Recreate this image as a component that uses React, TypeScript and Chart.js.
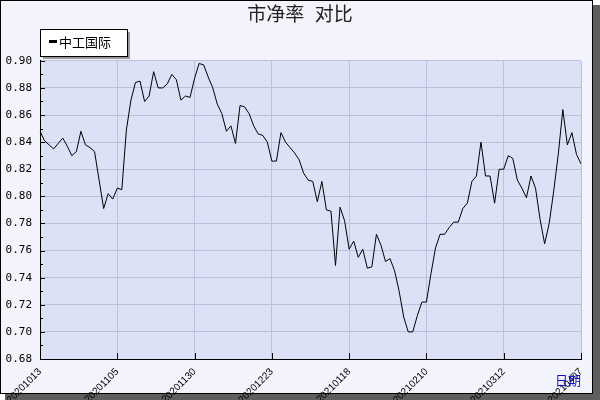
import React, { useEffect, useRef } from "react";
import { Chart, registerables } from "chart.js";

Chart.register(...registerables);

const titleText = "市净率  对比";
const seriesName = "中工国际";
const xAxisName = "日期";

const dates = [
  "20201013", "20201014", "20201015", "20201016", "20201019", "20201020", "20201021", "20201022", "20201023", "20201026",
  "20201027", "20201028", "20201029", "20201030", "20201102", "20201103", "20201104", "20201105", "20201106", "20201109",
  "20201110", "20201111", "20201112", "20201113", "20201116", "20201117", "20201118", "20201119", "20201120", "20201123",
  "20201124", "20201125", "20201126", "20201127", "20201130", "20201201", "20201202", "20201203", "20201204", "20201207",
  "20201208", "20201209", "20201210", "20201211", "20201214", "20201215", "20201216", "20201217", "20201218", "20201221",
  "20201222", "20201223", "20201224", "20201225", "20201228", "20201229", "20201230", "20201231", "20210104", "20210105",
  "20210106", "20210107", "20210108", "20210111", "20210112", "20210113", "20210114", "20210115", "20210118", "20210119",
  "20210120", "20210121", "20210122", "20210125", "20210126", "20210127", "20210128", "20210129", "20210201", "20210202",
  "20210203", "20210204", "20210205", "20210208", "20210209", "20210210", "20210218", "20210219", "20210222", "20210223",
  "20210224", "20210225", "20210226", "20210301", "20210302", "20210303", "20210304", "20210305", "20210308", "20210309",
  "20210310", "20210311", "20210312", "20210315", "20210316", "20210317", "20210318", "20210319", "20210322", "20210323",
  "20210324", "20210325", "20210326", "20210329", "20210330", "20210331", "20210401", "20210402", "20210406", "20210407",
];

const pbValues = [
  0.848, 0.841, 0.838, 0.835, 0.839, 0.843, 0.837, 0.830, 0.833, 0.848,
  0.838, 0.836, 0.833, 0.812, 0.791, 0.802, 0.798, 0.806, 0.805, 0.849,
  0.871, 0.884, 0.885, 0.870, 0.874, 0.892, 0.880, 0.880, 0.883, 0.890,
  0.886, 0.871, 0.874, 0.873, 0.887, 0.898, 0.897, 0.888, 0.880, 0.868,
  0.861, 0.848, 0.852, 0.839, 0.867, 0.866, 0.861, 0.852, 0.846, 0.845,
  0.840, 0.826, 0.826, 0.847, 0.840, 0.836, 0.832, 0.827, 0.817, 0.812,
  0.811, 0.796, 0.811, 0.790, 0.789, 0.749, 0.792, 0.782, 0.761, 0.767,
  0.755, 0.761, 0.747, 0.748, 0.772, 0.764, 0.752, 0.754, 0.745, 0.730,
  0.711, 0.700, 0.700, 0.712, 0.722, 0.722, 0.743, 0.762, 0.772, 0.772,
  0.777, 0.781, 0.781, 0.791, 0.795, 0.811, 0.815, 0.840, 0.815, 0.815,
  0.795, 0.820, 0.820, 0.830, 0.828, 0.812, 0.806, 0.799, 0.815, 0.806,
  0.783, 0.765, 0.780, 0.804, 0.831, 0.864, 0.838, 0.847, 0.831, 0.824,
];

const yMin = 0.68;
const yMax = 0.9;
const yStep = 0.02;
const yMinorStep = 0.01;
const xTickEvery = 17;

const outerBg = "#f3f4fb";
const plotBg = "#dce1f6";
const gridColor = "#b9c3dd";
const shadowColor = "#5e5e5e";

export default function App() {
  const canvasRef = useRef<HTMLCanvasElement | null>(null);

  useEffect(() => {
    document.body.style.margin = "0";
    const canvas = canvasRef.current;
    if (!canvas) return;

    const decorPlugin = {
      id: "decor",
      beforeDraw(chart: any) {
        const { ctx, chartArea } = chart;
        ctx.save();
        ctx.fillStyle = "#ffffff";
        ctx.fillRect(0, 0, 600, 400);
        ctx.fillStyle = shadowColor;
        ctx.fillRect(5, 5, 595, 395);
        ctx.fillStyle = outerBg;
        ctx.fillRect(0, 0, 593, 394);
        ctx.strokeStyle = "#000";
        ctx.lineWidth = 1;
        ctx.strokeRect(0.5, 0.5, 592, 393);
        ctx.fillStyle = plotBg;
        ctx.fillRect(chartArea.left, chartArea.top, chartArea.right - chartArea.left, chartArea.bottom - chartArea.top);
        ctx.restore();
      },
      afterDraw(chart: any) {
        const { ctx, chartArea } = chart;
        const xs = chart.scales.x;
        const ys = chart.scales.y;
        ctx.save();
        ctx.strokeStyle = "#000";
        ctx.lineWidth = 1;
        // y ticks (inside)
        for (let k = 0; k <= Math.round((yMax - yMin) / yMinorStep); k++) {
          const v = yMin + k * yMinorStep;
          const py = Math.round(ys.getPixelForValue(v)) + 0.5;
          const len = k % 2 === 0 ? 5 : 3;
          ctx.beginPath();
          ctx.moveTo(chartArea.left, py);
          ctx.lineTo(chartArea.left + len, py);
          ctx.stroke();
        }
        // x ticks (inside)
        for (let i = 0; i < dates.length; i += xTickEvery) {
          const px = Math.round(xs.getPixelForValue(i)) + 0.5;
          ctx.beginPath();
          ctx.moveTo(px, chartArea.bottom);
          ctx.lineTo(px, chartArea.bottom - 6);
          ctx.stroke();
        }
        // legend box
        const ds = chart.data.datasets[0];
        const lx = 40, ly = 29, lw = 87, lh = 27;
        ctx.fillStyle = "#9a9a9a";
        ctx.fillRect(lx + 3, ly + 3, lw, lh);
        ctx.fillStyle = "#ffffff";
        ctx.fillRect(lx, ly, lw, lh);
        ctx.strokeStyle = "#000";
        ctx.strokeRect(lx + 0.5, ly + 0.5, lw, lh);
        ctx.fillStyle = ds.borderColor;
        ctx.fillRect(lx + 9, ly + 11, 8, 3);
        ctx.font = "13px 'Noto Sans CJK SC'";
        ctx.textBaseline = "middle";
        ctx.textAlign = "left";
        ctx.fillStyle = "#000";
        ctx.fillText(ds.label, lx + 19, ly + 13);
        // x axis name
        ctx.font = "13px 'Noto Sans CJK SC'";
        ctx.fillStyle = "#1010d0";
        ctx.textAlign = "right";
        ctx.fillText(xAxisName, chartArea.right, chartArea.bottom + 21);
        ctx.restore();
      },
    };

    const chart = new Chart(canvas, {
      type: "line",
      data: {
        labels: dates,
        datasets: [
          {
            label: seriesName,
            data: pbValues,
            borderColor: "#000000",
            backgroundColor: "#000000",
            borderWidth: 1,
            pointRadius: 0,
            tension: 0,
            fill: false,
          },
        ],
      },
      options: {
        responsive: false,
        maintainAspectRatio: false,
        animation: false,
        layout: { padding: { left: 0, right: 0, top: 0, bottom: 0 } },
        plugins: {
          legend: { display: false },
          tooltip: { enabled: false },
          title: {
            display: true,
            text: titleText,
            color: "#222222",
            font: { family: "'Liberation Sans', 'Noto Sans CJK SC'", size: 19, weight: "normal" },
            padding: { top: 4, bottom: 34 },
          },
        },
        scales: {
          x: {
            type: "category",
            offset: false,
            grid: { color: gridColor, drawTicks: false, lineWidth: 1 },
            border: { display: true, color: "#000000", width: 1 },
            ticks: {
              autoSkip: false,
              minRotation: 45,
              maxRotation: 45,
              padding: 7,
              color: "#000000",
              font: { family: "'Liberation Sans'", size: 10 },
              callback: (_v: any, i: number) => (i % xTickEvery === 0 ? dates[i] : null),
            },
            afterFit: (s: any) => {
              s.height = 41;
              s.paddingRight = 19;
            },
          },
          y: {
            min: yMin,
            max: yMax,
            grid: { color: gridColor, drawTicks: false, lineWidth: 1 },
            border: { display: true, color: "#000000", width: 1 },
            ticks: {
              stepSize: yStep,
              padding: 8,
              color: "#000000",
              font: { family: "'DejaVu Sans Mono'", size: 11 },
              callback: (v: any) => Number(v).toFixed(2),
            },
            afterFit: (s: any) => {
              s.width = 40;
            },
          },
        },
      },
      plugins: [decorPlugin],
    });

    return () => {
      chart.destroy();
    };
  }, []);

  return (
    <div style={{ width: 600, height: 400 }}>
      <canvas ref={canvasRef} width={600} height={400} style={{ display: "block", width: 600, height: 400 }} />
    </div>
  );
}
